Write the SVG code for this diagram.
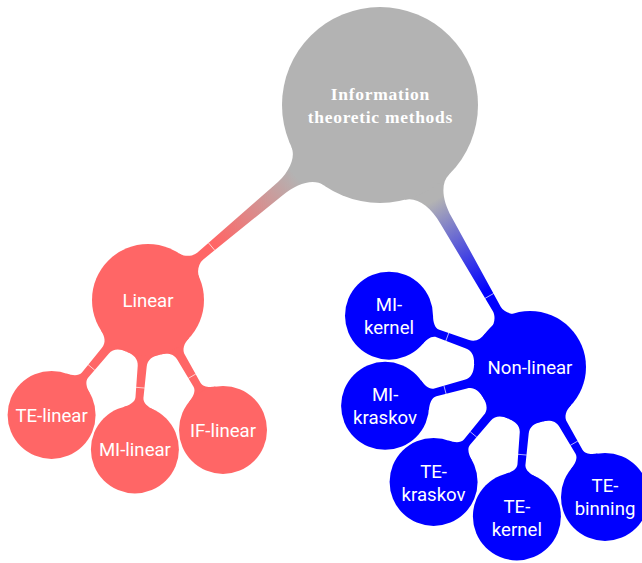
<svg xmlns="http://www.w3.org/2000/svg" width="642" height="563" viewBox="0 0 642 563">
<style>
.lab{font-family:Roboto,"Liberation Sans",sans-serif;font-size:18.6px;fill:#fff;text-anchor:middle}
.root{font-family:"Liberation Serif","DejaVu Serif",serif;font-weight:bold;font-size:17.5px;letter-spacing:0.7px;fill:#fff;text-anchor:middle}
.red{fill:#FF6666}
.blue{fill:#0000FF}
.gray{fill:#B3B3B3}
.tick{stroke:#fff;stroke-width:0.7;stroke-opacity:0.9}
</style>
<defs>
<path id="c1" d="M0,0 L94.66,-25.36 C97.77,-13.77 113,-6.5 133,-6.5 L235,-4.5 C241,-4.5 247.5,-9.67 249.17,-15.44 L303,0 L249.17,15.44 C247.5,9.67 241,4.5 235,4.5 L133,6.5 C113,6.5 97.77,13.77 94.66,25.36 Z"/>
<path id="c2" d="M0,0 L53.55,-16.37 C55.6,-9.68 59.5,-4.5 66.5,-4.5 L98,-4 C103,-4 106.6,-9.41 108.65,-15.05 L150,0 L108.65,15.05 C106.6,9.41 103,4 98,4 L66.5,4.5 C59.5,4.5 55.6,9.68 53.55,16.37 Z"/>
<linearGradient id="gRed" gradientUnits="userSpaceOnUse" x1="110" y1="0" x2="215" y2="0">
<stop offset="0" stop-color="#B3B3B3"/><stop offset="1" stop-color="#FF6666"/>
</linearGradient>
<linearGradient id="gBlue" gradientUnits="userSpaceOnUse" x1="110" y1="0" x2="215" y2="0">
<stop offset="0" stop-color="#B3B3B3"/><stop offset="1" stop-color="#0000FF"/>
</linearGradient>
</defs>
<g id="connectors">
<g transform="translate(380,105) rotate(139.95)"><use href="#c1" fill="url(#gRed)"/><line class="tick" x1="220" y1="-5" x2="220" y2="5"/></g>
<g transform="translate(380,105) rotate(60.2)"><use href="#c1" fill="url(#gBlue)"/><line class="tick" x1="220" y1="-5" x2="220" y2="5"/></g>
<g transform="translate(148,300) rotate(130)"><use href="#c2" class="red"/><line class="tick" x1="88" y1="-4.4" x2="88" y2="4.4"/></g>
<g transform="translate(148,300) rotate(95)"><use href="#c2" class="red"/><line class="tick" x1="88" y1="-4.4" x2="88" y2="4.4"/></g>
<g transform="translate(148,300) rotate(60)"><use href="#c2" class="red"/><line class="tick" x1="88" y1="-4.4" x2="88" y2="4.4"/></g>
<g transform="translate(530,367) rotate(200)"><use href="#c2" class="blue"/><line class="tick" x1="88" y1="-4.4" x2="88" y2="4.4"/></g>
<g transform="translate(530,367) rotate(165)"><use href="#c2" class="blue"/><line class="tick" x1="88" y1="-4.4" x2="88" y2="4.4"/></g>
<g transform="translate(530,367) rotate(130)"><use href="#c2" class="blue"/><line class="tick" x1="88" y1="-4.4" x2="88" y2="4.4"/></g>
<g transform="translate(530,367) rotate(95)"><use href="#c2" class="blue"/><line class="tick" x1="88" y1="-4.4" x2="88" y2="4.4"/></g>
<g transform="translate(530,367) rotate(60)"><use href="#c2" class="blue"/><line class="tick" x1="88" y1="-4.4" x2="88" y2="4.4"/></g>
</g>
<g id="root">
<circle class="gray" cx="380" cy="105" r="98"/>
<text class="root" x="380.4" y="100">Information</text>
<text class="root" x="380.4" y="123">theoretic methods</text>
</g>
<g id="linear">
<circle class="red" cx="148" cy="300" r="56"/>
<text class="lab" x="148" y="306.5">Linear</text>
</g>
<g id="te-linear">
<circle class="red" cx="51.6" cy="414.9" r="44"/>
<text class="lab" x="51.6" y="421.5">TE-linear</text>
</g>
<g id="mi-linear">
<circle class="red" cx="134.9" cy="449.4" r="44"/>
<text class="lab" x="134.9" y="456">MI-linear</text>
</g>
<g id="if-linear">
<circle class="red" cx="223" cy="429.9" r="44"/>
<text class="lab" x="223" y="436.5">IF-linear</text>
</g>
<g id="non-linear">
<circle class="blue" cx="530" cy="367" r="56"/>
<text class="lab" x="530" y="373.5">Non-linear</text>
</g>
<g id="mi-kernel">
<circle class="blue" cx="389" cy="315.7" r="44"/>
<text class="lab" x="389" y="311">MI-</text>
<text class="lab" x="389" y="333.5">kernel</text>
</g>
<g id="mi-kraskov">
<circle class="blue" cx="385.1" cy="405.8" r="44"/>
<text class="lab" x="385.1" y="401">MI-</text>
<text class="lab" x="385.1" y="423.5">kraskov</text>
</g>
<g id="te-kraskov">
<circle class="blue" cx="433.6" cy="481.9" r="44"/>
<text class="lab" x="433.6" y="477.5">TE-</text>
<text class="lab" x="433.6" y="500.5">kraskov</text>
</g>
<g id="te-kernel">
<circle class="blue" cx="516.9" cy="516.4" r="44"/>
<text class="lab" x="516.9" y="512.5">TE-</text>
<text class="lab" x="516.9" y="535.5">kernel</text>
</g>
<g id="te-binning">
<circle class="blue" cx="605" cy="496.9" r="44"/>
<text class="lab" x="605" y="492">TE-</text>
<text class="lab" x="605" y="514.5">binning</text>
</g>
</svg>
